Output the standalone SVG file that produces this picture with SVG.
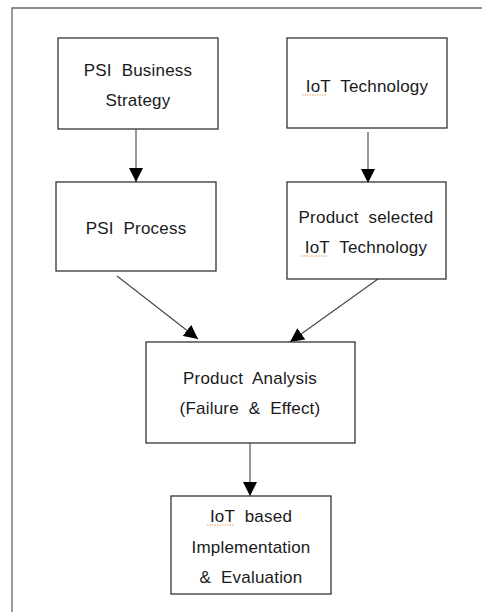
<svg xmlns="http://www.w3.org/2000/svg" width="482" height="612" viewBox="0 0 482 612">
<style>
.box{fill:#fff;stroke:#333;stroke-width:1.3}
.t{font-family:"Liberation Sans",Arial,sans-serif;font-size:17px;fill:#1a1a1a;text-anchor:middle;letter-spacing:0.2px;word-spacing:5px}
.c{stroke:#444;stroke-width:1.1;fill:none;marker-end:url(#ah)}
.sq{stroke:#e8a060;stroke-width:1;stroke-dasharray:1.5 1;fill:none}
</style>
<defs>
<marker id="ah" markerUnits="userSpaceOnUse" markerWidth="14" markerHeight="14" viewBox="0 0 14 14" refX="14" refY="7" orient="auto">
<path d="M0,0 L14,7 L0,14 Z" fill="#000"/>
</marker>
</defs>
<rect width="482" height="612" fill="#fff"/>
<path d="M12,612 L12,8 L482,8" fill="none" stroke="#666" stroke-width="1.3"/>
<g id="connectors">
<line class="c" x1="136" y1="129" x2="136" y2="182"/>
<line class="c" x1="368" y1="132" x2="368" y2="183"/>
<line class="c" x1="117" y1="276" x2="198" y2="339"/>
<line class="c" x1="378" y1="279" x2="290" y2="342"/>
<line class="c" x1="250" y1="443" x2="250" y2="496"/>
</g>
<g id="n1">
<rect class="box" x="58" y="38" width="160" height="91"/>
<text class="t" x="138" y="76">PSI Business</text>
<text class="t" x="138" y="106">Strategy</text>
</g>
<g id="n2">
<rect class="box" x="287" y="38" width="160" height="90"/>
<text class="t" x="367" y="92">IoT Technology</text>
<path class="sq" d="M302,95 L327,95"/>
</g>
<g id="n3">
<rect class="box" x="56" y="182" width="160" height="89"/>
<text class="t" x="136" y="234">PSI Process</text>
</g>
<g id="n4">
<rect class="box" x="287" y="182" width="159" height="97"/>
<text class="t" x="366" y="223">Product selected</text>
<text class="t" x="366" y="253">IoT Technology</text>
<path class="sq" d="M301,256 L327,256"/>
</g>
<g id="n5">
<rect class="box" x="146" y="342" width="209" height="101"/>
<text class="t" x="250" y="384">Product Analysis</text>
<text class="t" x="250" y="414">(Failure &amp; Effect)</text>
</g>
<g id="n6">
<rect class="box" x="171" y="496" width="160" height="98"/>
<text class="t" x="251" y="522">IoT based</text>
<path class="sq" d="M207,525 L234,525"/>
<text class="t" x="251" y="553">Implementation</text>
<text class="t" x="251" y="583">&amp; Evaluation</text>
</g>
</svg>
